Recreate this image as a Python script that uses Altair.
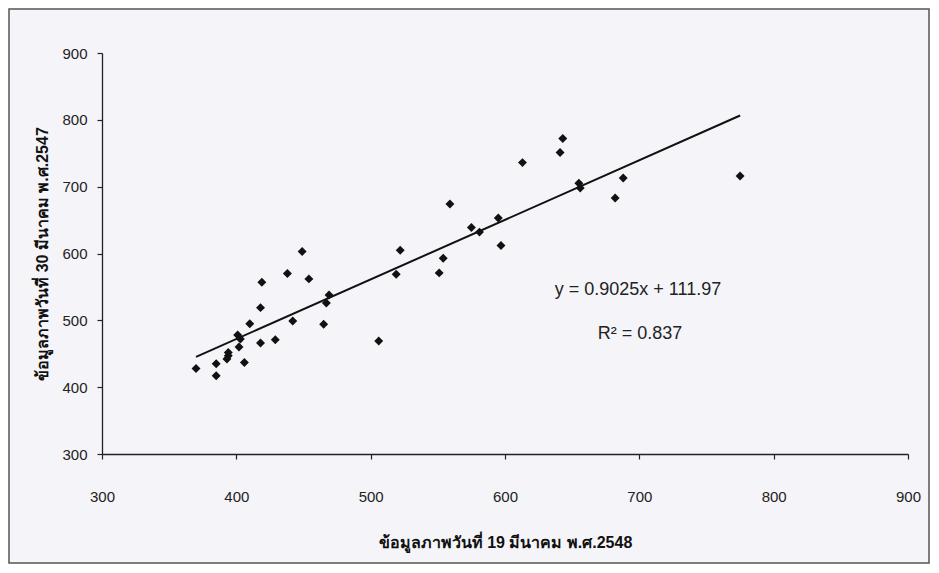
import altair as alt
import pandas as pd

# x: ข้อมูลภาพวันที่ 19 มีนาคม พ.ศ.2548, y: ข้อมูลภาพวันที่ 30 มีนาคม พ.ศ.2547
x_vals = [449, 438, 454, 419, 469, 467, 418, 410, 442, 465, 401, 403, 418, 429,
          402, 394, 394, 393, 406, 385, 370, 385,
          522, 519, 559, 575, 581, 595, 597, 554, 551, 655, 656, 506,
          643, 641, 688, 682, 775, 613]
y_vals = [603, 570, 562, 557, 538, 526, 519, 495, 499, 494, 478, 472, 466, 471,
          460, 452, 447, 442, 437, 435, 428, 417,
          605, 569, 674, 639, 632, 653, 612, 593, 571, 705, 698, 469,
          772, 751, 713, 683, 716, 736]
eq_labels = ["y = 0.9025x + 111.97", "R² = 0.837"]

df = pd.DataFrame({"x": x_vals, "y": y_vals})
ticks = [300, 400, 500, 600, 700, 800, 900]

FONT = "'Liberation Sans', Arial, sans-serif"
W, H = 806, 401

xs = alt.Scale(domain=[300, 900], nice=False, zero=False)
ys = alt.Scale(domain=[300, 900], nice=False, zero=False)

common = dict(grid=False, tickSize=5, domainColor="#222", tickColor="#222",
              domainWidth=1.3, tickWidth=1.2, labelColor="#222",
              labelFontSize=15, titleFontSize=16, titleFontWeight="bold",
              labelFont=FONT, titleFont=FONT, titleColor="#111")

xaxis = alt.Axis(values=ticks, title="ข้อมูลภาพวันที่ 19 มีนาคม พ.ศ.2548",
                 labelPadding=30, titlePadding=30, labelFlush=False, **common)
yaxis = alt.Axis(values=ticks, title="ข้อมูลภาพวันที่ 30 มีนาคม พ.ศ.2547",
                 labelPadding=10, titlePadding=11, **common)

base = alt.Chart(df)

points = base.mark_point(shape="diamond", filled=True, size=80, color="#111",
                         opacity=1).encode(
    x=alt.X("x:Q", scale=xs, axis=xaxis),
    y=alt.Y("y:Q", scale=ys, axis=yaxis),
)

trend = base.transform_regression("x", "y").mark_line(
    color="#111", strokeWidth=2).encode(
    x=alt.X("x:Q", scale=xs),
    y=alt.Y("y:Q", scale=ys),
)

eq_df = pd.DataFrame({"t": eq_labels, "k": [0, 1]})
eq1 = alt.Chart(eq_df).transform_filter("datum.k == 0").mark_text(
    font=FONT, fontSize=18, color="#222", align="center", baseline="middle"
).encode(text="t:N", x=alt.value(536), y=alt.value(237))
eq2 = alt.Chart(eq_df).transform_filter("datum.k == 1").mark_text(
    font=FONT, fontSize=18, color="#222", align="center", baseline="middle"
).encode(text="t:N", x=alt.value(538), y=alt.value(281))

frame = alt.Chart(eq_df).transform_filter("datum.k == 0").mark_rect(
    fillOpacity=0, stroke="#555", strokeWidth=1.5
).encode(x=alt.value(-93), x2=alt.value(827), y=alt.value(-44), y2=alt.value(510))

chart = alt.layer(frame, trend, points, eq1, eq2).properties(
    width=W, height=H,
    padding={"left": 94, "top": 45, "right": 22, "bottom": 110},
    autosize=alt.AutoSizeParams(type="none"),
    background="#f5f5f9",
).configure_view(stroke=None)

chart.save("out.html", embed_options={"renderer": "svg", "actions": False})
